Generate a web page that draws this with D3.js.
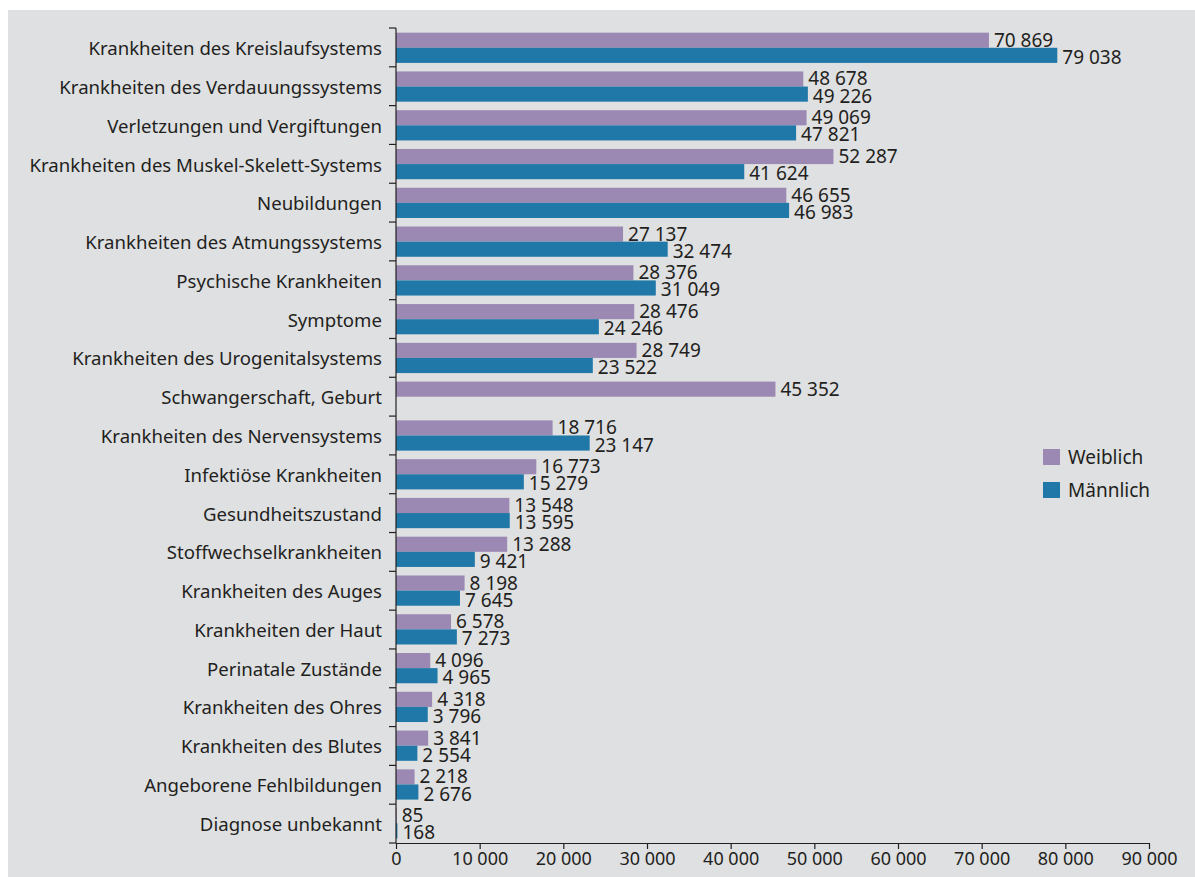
<!DOCTYPE html>
<html>
<head>
<meta charset="utf-8">
<script src="https://cdn.jsdelivr.net/npm/d3@7"></script>
<style>
  body { margin: 0; background: #fff; }
  text { font-family: "Noto Sans", sans-serif; fill: #231f20; }
</style>
</head>
<body>
<div id="chart"></div>
<script>
let width = 1195
let height = 877

let categories = ['Krankheiten des Kreislaufsystems', 'Krankheiten des Verdauungssystems', 'Verletzungen und Vergiftungen',
  'Krankheiten des Muskel-Skelett-Systems', 'Neubildungen', 'Krankheiten des Atmungssystems', 'Psychische Krankheiten',
  'Symptome', 'Krankheiten des Urogenitalsystems', 'Schwangerschaft, Geburt', 'Krankheiten des Nervensystems',
  'Infektiöse Krankheiten', 'Gesundheitszustand', 'Stoffwechselkrankheiten', 'Krankheiten des Auges',
  'Krankheiten der Haut', 'Perinatale Zustände', 'Krankheiten des Ohres', 'Krankheiten des Blutes',
  'Angeborene Fehlbildungen', 'Diagnose unbekannt']

let weiblich = [70869, 48678, 49069, 52287, 46655, 27137, 28376, 28476, 28749, 45352, 18716,
  16773, 13548, 13288, 8198, 6578, 4096, 4318, 3841, 2218, 85]
let maennlich = [79038, 49226, 47821, 41624, 46983, 32474, 31049, 24246, 23522, 0, 23147,
  15279, 13595, 9421, 7645, 7273, 4965, 3796, 2554, 2676, 168]

let series = ['Weiblich', 'Männlich']
let xTicks = [0, 10000, 20000, 30000, 40000, 50000, 60000, 70000, 80000, 90000]

let colors = { 'Weiblich': '#9b89b3', 'Männlich': '#1f78a8' }

let margin = { top: 28, left: 396, right: 46, bottom: 34 }

let fmt = d3.formatLocale({ decimal: ',', thousands: ' ', grouping: [3], currency: ['', ''] }).format(',d')

let svg = d3.select('#chart').append('svg')
  .attr('width', width)
  .attr('height', height)

// gray panel
svg.append('rect')
  .attr('x', 8).attr('y', 10)
  .attr('width', width - 8).attr('height', height - 10)
  .attr('fill', '#dfe0e2')

let innerH = height - margin.top - margin.bottom

let xScale = d3.scaleLinear()
  .domain([0, 90000])
  .range([0, 753])

let yScale = d3.scaleBand()
  .domain(categories)
  .range([0, innerH])
  .paddingInner(0.22)
  .paddingOuter(0.12)

let subScale = d3.scaleBand()
  .domain(series)
  .range([0, yScale.bandwidth()])

let inner = svg.append('g')
  .attr('transform', 'translate(' + margin.left + ',' + margin.top + ')')

let rows = categories.map((c, i) => ({ cat: c, vals: [weiblich[i], maennlich[i]] }))

let groups = inner.selectAll('g.row')
  .data(rows)
  .enter().append('g')
  .attr('class', 'row')
  .attr('transform', d => 'translate(0,' + yScale(d.cat) + ')')

series.forEach((s, si) => {
  groups.filter(d => d.vals[si] > 0).append('rect')
    .attr('x', 0)
    .attr('y', subScale(s))
    .attr('width', d => xScale(d.vals[si]))
    .attr('height', subScale.bandwidth())
    .attr('fill', colors[s])
})

// value labels drawn above all bars
series.forEach((s, si) => {
  groups.filter(d => d.vals[si] > 0).append('text')
    .attr('x', d => xScale(d.vals[si]) + 5)
    .attr('y', subScale(s) + subScale.bandwidth() / 2 + (si === 0 ? -0.5 : 1.5))
    .attr('dominant-baseline', 'central')
    .style('font-size', '19px')
    .text(d => fmt(d.vals[si]))
})

// category labels
groups.append('text')
  .attr('x', -14)
  .attr('y', yScale.bandwidth() / 2)
  .attr('text-anchor', 'end')
  .attr('dominant-baseline', 'central')
  .style('font-size', '18.6px')
  .text(d => d.cat)

// y axis line with ticks on band boundaries
let boundaries = d3.range(categories.length + 1).map(i => i * innerH / categories.length)
inner.append('line')
  .attr('x1', 0).attr('x2', 0)
  .attr('y1', 0).attr('y2', innerH)
  .attr('stroke', '#231f20').attr('stroke-width', 1.2)
inner.selectAll('line.ytick')
  .data(boundaries)
  .enter().append('line')
  .attr('class', 'ytick')
  .attr('x1', -7).attr('x2', 0)
  .attr('y1', d => d).attr('y2', d => d)
  .attr('stroke', '#231f20').attr('stroke-width', 1.2)

// x axis
let xAxis = inner.append('g')
  .attr('transform', 'translate(0,' + innerH + ')')
  .call(d3.axisBottom(xScale).tickValues(xTicks).tickSize(6).tickSizeOuter(0).tickFormat(d => fmt(d)))
xAxis.select('.domain').attr('stroke', '#231f20').attr('stroke-width', 1.2)
xAxis.selectAll('.tick line').attr('stroke', '#231f20').attr('stroke-width', 1.2)
xAxis.selectAll('.tick text')
  .attr('y', 9)
  .style('font-size', '18px')
  .style('font-family', '"Noto Sans", sans-serif')
  .attr('fill', '#231f20')

// legend
let legend = svg.append('g').attr('transform', 'translate(1043,449)')
series.forEach((s, i) => {
  legend.append('rect')
    .attr('x', 0).attr('y', i * 33)
    .attr('width', 17).attr('height', 16)
    .attr('fill', colors[s])
  legend.append('text')
    .attr('x', 25).attr('y', i * 33 + 8)
    .attr('dominant-baseline', 'central')
    .style('font-size', '19px')
    .text(s)
})
</script>
</body>
</html>
